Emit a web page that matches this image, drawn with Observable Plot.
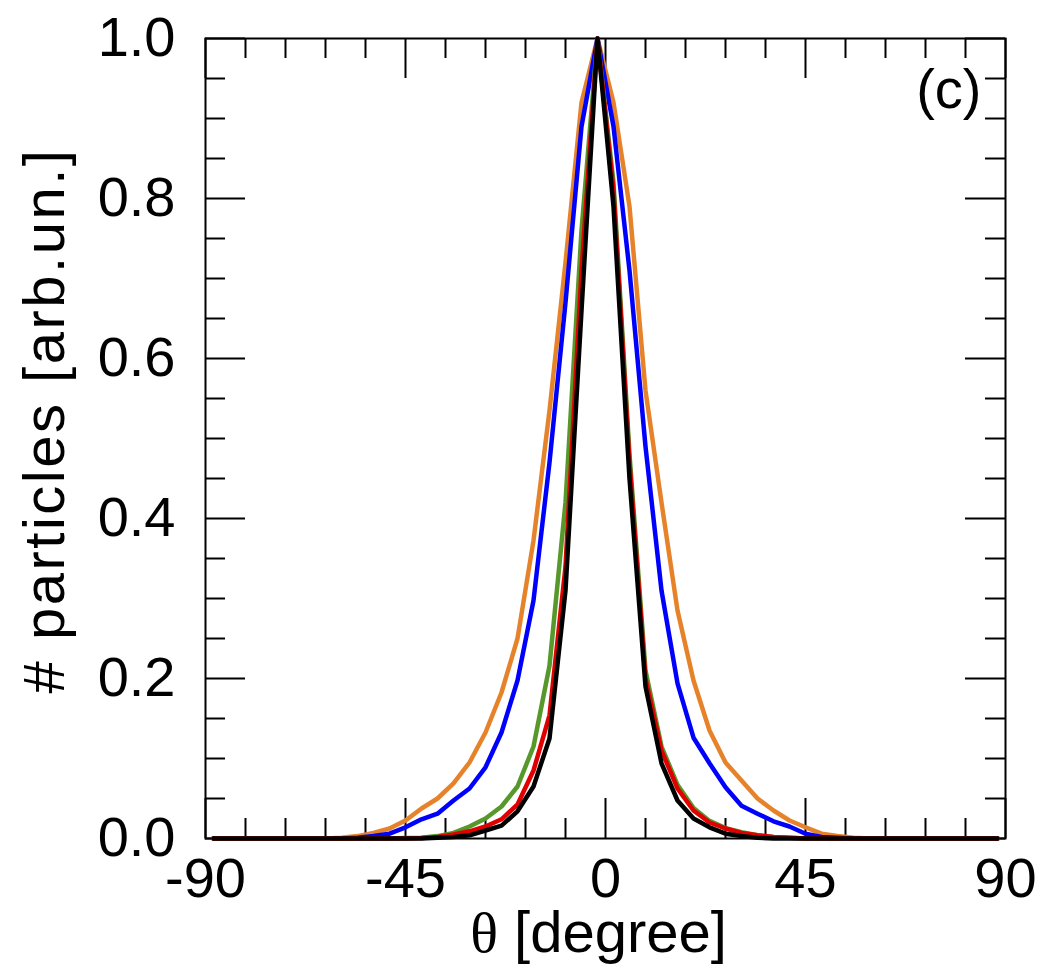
<!DOCTYPE html>
<html>
<head>
<meta charset="utf-8">
<script src="https://cdn.jsdelivr.net/npm/d3@7"></script>
<script src="https://cdn.jsdelivr.net/npm/@observablehq/plot@0.6"></script>
<style>
  html, body { margin: 0; padding: 0; background: #fff; }
</style>
</head>
<body>
<div id="chart"></div>
<script>
// Bin centres (degrees)
const theta = [-88.2,-84.6,-81,-77.4,-73.8,-70.2,-66.6,-63,-59.4,-55.8,-52.2,-48.6,-45,-41.4,-37.8,-34.2,-30.6,-27,-23.4,-19.8,-16.2,-12.6,-9,-5.4,-1.8,1.8,5.4,9,12.6,16.2,19.8,23.4,27,30.6,34.2,37.8,41.4,45,48.6,52.2,55.8,59.4,63,66.6,70.2,73.8,77.4,81,84.6,88.2];

const orange = [0,0,0,0,0,0,0,0, 0.001,0.003,0.007,0.0125, 0.0225,0.0375,0.05,0.069,0.095,0.1325,0.1825,0.25,0.3725,0.535,0.72,0.92, 1.0, 0.92,0.79,0.56,0.42,0.285,0.1975,0.135,0.095,0.0725,0.05,0.035,0.0225, 0.014,0.006,0.003,0.001, 0,0,0,0,0,0,0,0,0];
const blue   = [0,0,0,0,0,0,0,0, 0,0.001,0.003,0.006, 0.014,0.024,0.031,0.0475,0.0625,0.089,0.1325,0.1975,0.2975,0.47,0.67,0.89, 1.0, 0.89,0.71,0.49,0.31,0.194,0.126,0.094,0.064,0.041,0.031,0.0215,0.015, 0.006,0.002,0.001,0, 0,0,0,0,0,0,0,0,0];
const green  = [0,0,0,0,0,0,0,0, 0,0,0,0, 0.0005,0.001,0.003,0.007,0.015,0.025,0.04,0.065,0.115,0.216,0.42,0.76, 1.0, 0.82,0.48,0.21,0.115,0.067,0.038,0.022,0.013,0.008,0.004,0.002,0.001, 0,0,0,0, 0,0,0,0,0,0,0,0,0];
const red    = [0,0,0,0,0,0,0,0, 0,0,0,0, 0,0.0005,0.002,0.005,0.009,0.015,0.024,0.0425,0.085,0.154,0.34,0.71, 1.0, 0.81,0.47,0.20,0.11,0.0625,0.035,0.02,0.0125,0.007,0.004,0.002,0.001, 0,0,0,0, 0,0,0,0,0,0,0,0,0];
const black  = [0,0,0,0,0,0,0,0, 0,0,0,0, 0,0,0.001,0.002,0.004,0.01,0.016,0.034,0.065,0.125,0.31,0.66, 1.0, 0.79,0.45,0.19,0.094,0.0475,0.025,0.014,0.006,0.003,0.001,0,0, 0,0,0,0, 0,0,0,0,0,0,0,0,0];

const xMajor = [-90,-45,0,45,90];
const xMinor = [-81,-72,-63,-54,-36,-27,-18,-9,9,18,27,36,54,63,72,81];
const yMajor = [0,0.2,0.4,0.6,0.8,1.0];
const yMinor = [0.05,0.1,0.15,0.25,0.3,0.35,0.45,0.5,0.55,0.65,0.7,0.75,0.85,0.9,0.95];

const xTitle = "θ [degree]";
const yTitle = "# particles [arb.un.]";
const panel = "(c)";

const W = 1051, H = 978;
const fs = 56;
const lw = 4.5;

const chart = Plot.plot({
  width: W,
  height: H,
  marginLeft: 205,
  marginRight: 46,
  marginTop: 38,
  marginBottom: 140,
  style: {fontFamily: "'Liberation Sans', Arial, Helvetica, sans-serif", background: "#fff", color: "#000"},
  x: {domain: [-90, 90]},
  y: {domain: [0, 1]},
  marks: [
    Plot.frame({stroke: "#000", strokeWidth: 2}),
    // inward ticks - bottom / top
    Plot.tickX(xMinor, {x: d => d, insetTop: 780, stroke: "#000", strokeWidth: 2}),
    Plot.tickX(xMajor, {x: d => d, insetTop: 760, stroke: "#000", strokeWidth: 2}),
    Plot.tickX(xMinor, {x: d => d, insetBottom: 780, stroke: "#000", strokeWidth: 2}),
    Plot.tickX(xMajor, {x: d => d, insetBottom: 760, stroke: "#000", strokeWidth: 2}),
    // inward ticks - left / right
    Plot.tickY(yMinor, {y: d => d, insetRight: 780, stroke: "#000", strokeWidth: 2}),
    Plot.tickY(yMajor, {y: d => d, insetRight: 760, stroke: "#000", strokeWidth: 2}),
    Plot.tickY(yMinor, {y: d => d, insetLeft: 780, stroke: "#000", strokeWidth: 2}),
    Plot.tickY(yMajor, {y: d => d, insetLeft: 760, stroke: "#000", strokeWidth: 2}),
    // tick labels
    Plot.axisX(xMajor, {tickSize: 0, tickPadding: 19, fontSize: fs, label: null, tickFormat: d => String(d)}),
    Plot.axisY(yMajor, {tickSize: 0, tickPadding: 30, fontSize: fs, label: null, tickFormat: d3.format(".1f")}),
    // curves
    Plot.lineY(orange, {x: theta, stroke: "#e6832a", strokeWidth: lw}),
    Plot.lineY(blue,   {x: theta, stroke: "#0000ff", strokeWidth: lw}),
    Plot.lineY(green,  {x: theta, stroke: "#56982a", strokeWidth: lw}),
    Plot.lineY(red,    {x: theta, stroke: "#e00000", strokeWidth: lw}),
    Plot.lineY(black,  {x: theta, stroke: "#000000", strokeWidth: lw}),
    // titles
    Plot.text([xTitle], {frameAnchor: "bottom", dx: -7, dy: 95, fontSize: 58, lineAnchor: "middle", textAnchor: "middle", fill: "#000"}),
    Plot.text([yTitle], {frameAnchor: "left", dx: -160, dy: -18, rotate: -90, fontSize: 58, lineAnchor: "middle", textAnchor: "middle", fill: "#000"}),
    Plot.text([panel], {frameAnchor: "top-right", dx: -24, dy: 30, fontSize: fs, lineAnchor: "top", textAnchor: "end", fill: "#000"})
  ]
});

chart.querySelectorAll("text").forEach(t => {
  if (t.textContent === xTitle) {
    // Greek theta in a serif face, as in the original
    t.textContent = "";
    const ns = "http://www.w3.org/2000/svg";
    const a = document.createElementNS(ns, "tspan");
    a.setAttribute("font-family", "'Liberation Serif', 'DejaVu Serif', serif");
    a.textContent = "θ";
    const b = document.createElementNS(ns, "tspan");
    b.textContent = " [degree]";
    t.appendChild(a); t.appendChild(b);
  } else if (t.textContent === yTitle) {
    t.style.letterSpacing = "2.5px";
  }
});

document.getElementById("chart").appendChild(chart);
</script>
</body>
</html>
